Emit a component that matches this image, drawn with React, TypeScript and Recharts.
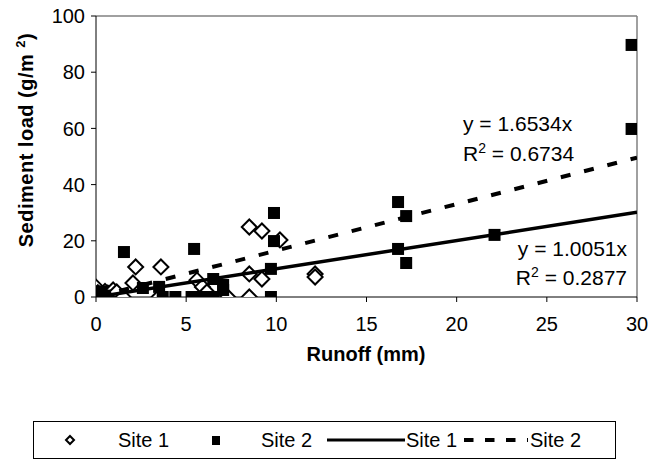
import React from 'react';
import { ScatterChart, Scatter, XAxis, YAxis, ReferenceLine } from 'recharts';

const site1X = [0, 0.1, 0.3, 0.5, 0.65, 0.95, 1.15, 1.5, 2.05, 2.2, 3.5, 3.6, 5.6, 5.9, 6.15, 7.3, 8.5, 8.5, 8.5, 9.2, 9.2, 10.2, 12.15, 12.15];
const site1Y = [3.5, 1.5, 0.5, 2.0, 1.4, 2.5, 1.8, 0, 5.0, 10.7, 0, 10.7, 6.0, 3.6, 1.8, 0, 0, 8.2, 24.9, 6.4, 23.5, 20.3, 8.2, 7.1];

const site2X = [0, 0.1, 0.2, 0.3, 0.5, 1.55, 2.6, 3.5, 3.7, 4.4, 5.3, 5.44, 5.9, 6.5, 6.5, 7.05, 7.05, 9.7, 9.7, 9.87, 9.87, 16.75, 16.75, 17.2, 17.2, 22.1, 29.7, 29.7];
const site2Y = [0, 1.0, 0, 2.0, 0.5, 16.0, 3.2, 3.6, 0, 0, 0, 17.1, 0, 0, 6.4, 4.3, 2.5, 0, 10.0, 19.9, 29.9, 17.1, 33.8, 12.1, 28.8, 22.1, 59.8, 89.7];

const slope1 = 1.0051;
const slope2 = 1.6534;
const r2Site1 = '0.2877';
const r2Site2 = '0.6734';
const trendX = [0, 30];

const xTicks = [0, 5, 10, 15, 20, 25, 30];
const yTicks = [0, 20, 40, 60, 80, 100];

const site1 = site1X.map((x, i) => ({ x, y: site1Y[i] }));
const site2 = site2X.map((x, i) => ({ x, y: site2Y[i] }));
const trend1 = trendX.map((x) => ({ x, y: slope1 * x }));
const trend2 = trendX.map((x) => ({ x, y: slope2 * x }));

const FONT = '"Liberation Sans", Arial, sans-serif';

const Diamond = (props: any) => {
  const { cx, cy } = props;
  if (cx == null || cy == null) return <g />;
  const r = 7.5;
  return (
    <path
      d={`M${cx},${cy - r} L${cx + r},${cy} L${cx},${cy + r} L${cx - r},${cy} Z`}
      fill="#fff"
      stroke="#000"
      strokeWidth={2}
    />
  );
};

const Square = (props: any) => {
  const { cx, cy } = props;
  if (cx == null || cy == null) return <g />;
  const h = 6;
  return <rect x={cx - h} y={cy - h} width={2 * h} height={2 * h} fill="#000" />;
};

const NoShape = () => <g />;

const tickStyle = { fontSize: 20, fill: '#000', fontFamily: FONT };

export default function App() {
  return (
    <div style={{ position: 'absolute', left: 0, top: 0, width: 649, height: 462, background: '#fff', fontFamily: FONT }}>
      <ScatterChart width={649} height={462} margin={{ top: 16, right: 12, left: 36, bottom: 125 }}>
        <XAxis
          type="number"
          dataKey="x"
          domain={[0, 30]}
          ticks={xTicks}
          tick={tickStyle}
          tickSize={5}
          tickMargin={15}
          height={40}
          stroke="#000"
          axisLine={{ stroke: '#000', strokeWidth: 1 }}
          tickLine={{ stroke: '#000' }}
          allowDataOverflow
        />
        <YAxis
          type="number"
          dataKey="y"
          domain={[0, 100]}
          ticks={yTicks}
          tick={tickStyle}
          tickSize={5}
          tickMargin={6}
          width={60}
          stroke="#000"
          axisLine={{ stroke: '#000', strokeWidth: 1 }}
          tickLine={{ stroke: '#000' }}
          allowDataOverflow
        />
        <ReferenceLine y={100} stroke="#808080" strokeWidth={1.5} />
        <ReferenceLine x={30} stroke="#808080" strokeWidth={1.5} />
        <Scatter data={site1} shape={Diamond} isAnimationActive={false} />
        <Scatter data={site2} shape={Square} isAnimationActive={false} />
        <Scatter
          data={trend1}
          line={{ stroke: '#000', strokeWidth: 3.5 }}
          lineType="joint"
          shape={NoShape}
          isAnimationActive={false}
        />
        <Scatter
          data={trend2}
          line={{ stroke: '#000', strokeWidth: 4, strokeDasharray: '10 14' }}
          lineType="joint"
          shape={NoShape}
          isAnimationActive={false}
        />
      </ScatterChart>

      <svg
        width={649}
        height={462}
        style={{ position: 'absolute', left: 0, top: 0, pointerEvents: 'none' }}
      >
        <text
          transform="translate(33,140) rotate(-90)"
          textAnchor="middle"
          fontFamily={FONT}
          fontWeight="bold"
          fontSize={20}
          letterSpacing={0.5}
          fill="#000"
        >
          Sediment load (g/m <tspan fontSize={13} dy={-8}>2</tspan>
          <tspan dy={8}>)</tspan>
        </text>
        <text x={366} y={361} textAnchor="middle" fontFamily={FONT} fontWeight="bold" fontSize={20} fill="#000">
          Runoff (mm)
        </text>

        <text x={463} y={131} fontFamily={FONT} fontSize={21} fill="#000">
          {`y = ${slope2}x`}
        </text>
        <text x={463} y={161} fontFamily={FONT} fontSize={21} fill="#000">
          R<tspan fontSize={14} dy={-8}>2</tspan>
          <tspan dy={8}>{` = ${r2Site2}`}</tspan>
        </text>
        <text x={627} y={256} textAnchor="end" fontFamily={FONT} fontSize={21} fill="#000">
          {`y = ${slope1}x`}
        </text>
        <text x={627} y={285} textAnchor="end" fontFamily={FONT} fontSize={21} fill="#000">
          R<tspan fontSize={14} dy={-8}>2</tspan>
          <tspan dy={8}>{` = ${r2Site1}`}</tspan>
        </text>

        <g>
          <rect x={33.5} y={421.5} width={582} height={37} fill="#fff" stroke="#000" strokeWidth={1} />
          <path d="M70,436 L74,440 L70,444 L66,440 Z" fill="#fff" stroke="#000" strokeWidth={2} />
          <text x={118} y={447} fontFamily={FONT} fontSize={20} fill="#000">Site 1</text>
          <rect x={212} y={436} width={8} height={9} fill="#000" />
          <text x={261} y={447} fontFamily={FONT} fontSize={20} fill="#000">Site 2</text>
          <line x1={327} y1={440} x2={405} y2={440} stroke="#000" strokeWidth={3} />
          <text x={406} y={447} fontFamily={FONT} fontSize={20} fill="#000">Site 1</text>
          <line x1={464} y1={440} x2={528} y2={440} stroke="#000" strokeWidth={4} strokeDasharray="9.5 11.5" />
          <text x={530} y={447} fontFamily={FONT} fontSize={20} fill="#000">Site 2</text>
        </g>
      </svg>
    </div>
  );
}
